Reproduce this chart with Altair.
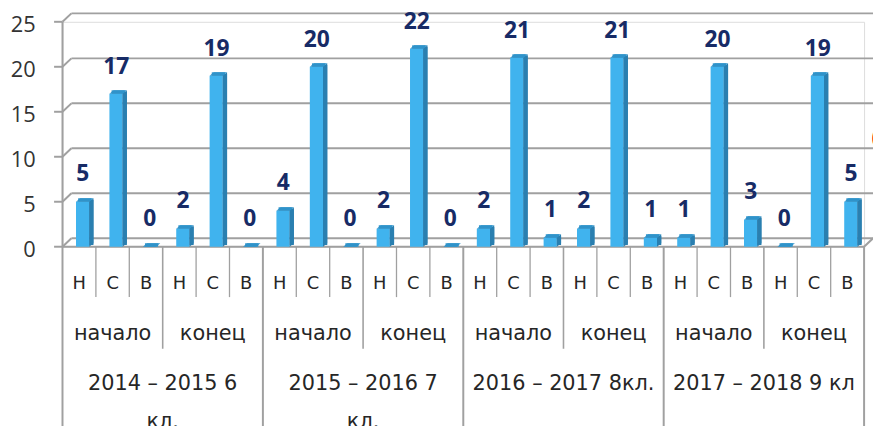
import altair as alt
import pandas as pd

# ---------------- data ----------------
years = ["2014 – 2015 6\nкл.", "2015 – 2016 7\nкл.", "2016 – 2017 8кл.", "2017 – 2018 9 кл"]
periods = ["начало", "конец"]
levels = ["Н", "С", "В"]
values = [5, 17, 0, 2, 19, 0,
          4, 20, 0, 2, 22, 0,
          2, 21, 1, 2, 21, 1,
          1, 20, 3, 0, 19, 5]
y_ticks = [0, 5, 10, 15, 20, 25]

# ---------------- geometry / style ----------------
N = len(values)
W, H = 809, 227
PX_X = W / N
PX_Y = H / 25
WALL_DX = 9 / PX_X
WALL_DY = 8.5 / PX_Y
BAR_L, BAR_R = 0.405, 0.80
DEP_X, DEP_Y = 4.3 / PX_X, 3.5 / PX_Y
GRID = "#a0a0a0"
FRONT, SIDE, TOP = "#40b3ee", "#2a7fb0", "#2f93ca"

xs = alt.Scale(domain=[0, N], nice=False, zero=False)
ys = alt.Scale(domain=[0, 25], nice=False, zero=False)


def X(f):
    return alt.X(f, type="quantitative", scale=xs, axis=None)


def Y(f):
    return alt.Y(f, type="quantitative", scale=ys, axis=None)


# ---------------- tables ----------------
bars = pd.DataFrame({"i": range(N), "v": values})
bars["x0"] = bars["i"] + BAR_L
bars["x1"] = bars["i"] + BAR_R
bars["zero"] = 0.0
bars["lx"] = bars["i"] + 0.61
bars["ly"] = bars["v"] + 2.25
bars["txt"] = bars["v"].astype(str)
# fallback depth faces drawn as thick strokes
bars["sx"] = bars["x1"] + DEP_X / 2
bars["sy0"] = DEP_Y / 2
bars["sy1"] = bars["v"] + DEP_Y / 2
bars["tx0"] = bars["x0"] + DEP_X / 2
bars["tx1"] = bars["x1"] + DEP_X / 2

top_rows, side_rows = [], []
for i, v in enumerate(values):
    x0, x1 = i + BAR_L, i + BAR_R
    top_rows += [
        {"b": i, "x": x0, "y": v, "y2": v},
        {"b": i, "x": x0 + DEP_X, "y": v + DEP_Y, "y2": v},
        {"b": i, "x": x1, "y": v + DEP_Y, "y2": v},
        {"b": i, "x": x1 + DEP_X, "y": v + DEP_Y, "y2": v + DEP_Y},
    ]
    side_rows += [
        {"b": i, "x": x1, "y": v, "y2": 0},
        {"b": i, "x": x1 + DEP_X, "y": v + DEP_Y, "y2": DEP_Y},
    ]
top_df = pd.DataFrame(top_rows)
side_df = pd.DataFrame(side_rows)

seg = []
for t in y_ticks:
    seg.append({"x": -8.5 / PX_X, "y": t, "x2": 0, "y2": t})
    seg.append({"x": 0, "y": t, "x2": WALL_DX, "y2": t + WALL_DY})
    seg.append({"x": WALL_DX, "y": t + WALL_DY, "x2": N + WALL_DX, "y2": t + WALL_DY})
seg.append({"x": 0, "y": 0, "x2": 0, "y2": 25})
seg.append({"x": 0, "y": 0, "x2": N, "y2": 0})
seg.append({"x": N, "y": 0, "x2": N + WALL_DX, "y2": WALL_DY})
grid_df = pd.DataFrame(seg)

ylab = pd.DataFrame({"x": -27 / PX_X, "y": y_ticks, "t": [str(t) for t in y_ticks]})

tab = []
for b in range(N + 1):
    if b % 6 == 0:
        bottom, w = -21, 2
    elif b % 3 == 0:
        bottom, w = -11.34, 1.6
    else:
        bottom, w = -5.6, 1.3
    tab.append({"x": b, "y": 0, "x2": b, "y2": bottom, "w": w})
tab_df = pd.DataFrame(tab)

row1 = pd.DataFrame({"x": [i + 0.5 for i in range(N)], "y": -4.74,
                     "t": [levels[i % 3] for i in range(N)]})
row2 = pd.DataFrame({"x": [j * 3 + 1.5 for j in range(8)], "y": -10.35,
                     "t": [periods[j % 2] for j in range(8)]})
row3 = pd.DataFrame({"x": [g * 6 + 3 for g in range(4)], "y": -15.97, "t": years})
frag = pd.DataFrame({"x": [24.22], "y": [12.2], "t": ["("]})

# ---------------- layers ----------------
grid = alt.Chart(grid_df).mark_rule(color=GRID, strokeWidth=2).encode(
    x=X("x"), y=Y("y"), x2="x2", y2="y2")

ylabels = alt.Chart(ylab).mark_text(font="Open Sans", fontSize=22, color="#333333",
                                    align="right", baseline="middle", dy=3).encode(
    x=X("x"), y=Y("y"), text="t:N")

table = alt.Chart(tab_df).mark_rule(color=GRID).encode(
    x=X("x"), y=Y("y"), x2="x2", y2="y2",
    strokeWidth=alt.StrokeWidth("w:Q", scale=None, legend=None))

front = alt.Chart(bars).mark_rect(color=FRONT).encode(
    x=X("x0"), x2="x1", y=Y("v"), y2="zero")

side_fb = alt.Chart(bars).mark_rule(color=SIDE, strokeWidth=4.3, strokeCap="butt").encode(
    x=X("sx"), y=Y("sy0"), y2="sy1")

top_fb = alt.Chart(bars).mark_rule(color=TOP, strokeWidth=3.5, strokeCap="butt").encode(
    x=X("tx0"), x2="tx1", y=Y("sy1"))

side = alt.Chart(side_df).mark_area(color=SIDE, interpolate="linear", opacity=1).encode(
    x=X("x"), y=alt.Y("y", type="quantitative", scale=ys, axis=None, stack=None),
    y2=alt.Y2("y2"), detail="b:N")

top = alt.Chart(top_df).mark_area(color=TOP, interpolate="linear", opacity=1).encode(
    x=X("x"), y=alt.Y("y", type="quantitative", scale=ys, axis=None, stack=None),
    y2=alt.Y2("y2"), detail="b:N")

labels = alt.Chart(bars).mark_text(
    font="Open Sans", fontSize=23, fontWeight="bold", color="#172b66",
    baseline="alphabetic", align="center").encode(
    x=X("lx"), y=Y("ly"), text="txt:N")

t1 = alt.Chart(row1).mark_text(font="DejaVu Sans", fontSize=18, color="#262626",
                               baseline="alphabetic").encode(x=X("x"), y=Y("y"), text="t:N")
t2 = alt.Chart(row2).mark_text(font="DejaVu Sans", fontSize=21, color="#262626",
                               baseline="alphabetic").encode(x=X("x"), y=Y("y"), text="t:N")
t3 = alt.Chart(row3).mark_text(font="DejaVu Sans", fontSize=21, color="#262626",
                               baseline="alphabetic", lineBreak="\n",
                               lineHeight=38).encode(x=X("x"), y=Y("y"), text="t:N")
red = alt.Chart(frag).mark_text(font="Open Sans", fontSize=22, fontWeight="bold",
                                color="#ff0000", align="left",
                                baseline="middle").encode(x=X("x"), y=Y("y"), text="t:N")

chart = alt.layer(grid, ylabels, table, front, side_fb, top_fb, side, top,
                  labels, t1, t2, t3, red).properties(
    width=W, height=H, autosize="none",
    padding={"left": 55, "top": 12, "right": 9, "bottom": 179},
).configure_view(stroke=None).configure(background="white")

chart.save("out.html", embed_options={"renderer": "svg", "actions": False})
